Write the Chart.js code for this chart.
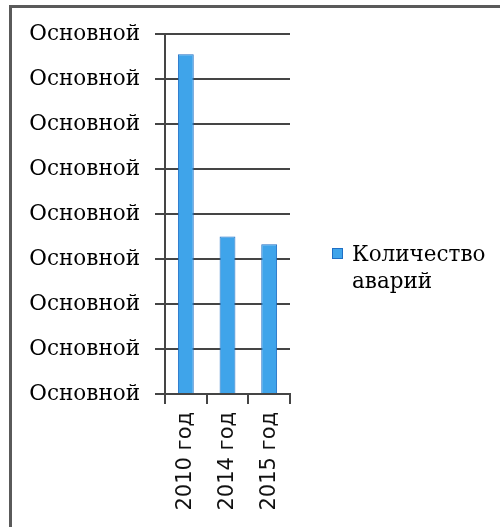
<!DOCTYPE html>
<html>
<head>
<meta charset="utf-8">
<script src="https://cdn.jsdelivr.net/npm/chart.js@4/dist/chart.umd.min.js"></script>
<style>
  html, body { margin: 0; padding: 0; background: #fff; }
  #wrap { position: relative; width: 500px; height: 527px; }
  #frame { position: absolute; left: 9px; top: 5px; right: 0; bottom: 0;
           border-left: 3px solid #5a5a5a; border-top: 3px solid #5a5a5a; pointer-events: none; }
  canvas { position: absolute; left: 0; top: 0; }
</style>
</head>
<body>
<div id="wrap">
  <canvas id="c" width="500" height="527"></canvas>
  <div id="frame"></div>
</div>
<script>
// Categories and values
const categories = ['2010 год', '2014 год', '2015 год'];
const seriesName = 'Количество аварий';
const accidents = [7.55, 3.5, 3.33];
// Value-axis labels (one per gridline, bottom to top)
const yTickLabels = ['Основной', 'Основной', 'Основной', 'Основной', 'Основной',
                     'Основной', 'Основной', 'Основной', 'Основной'];

const serif = '"DejaVu Serif", serif';
const sans = '"DejaVu Sans", sans-serif';
const barFill = '#3fa4ea';
const barEdge = '#1f6fc5';
const gridColor = '#454545';

// Legend drawn at the right, with the series name wrapped onto two lines
const sideLegend = {
  id: 'sideLegend',
  afterDraw(chart) {
    const ctx = chart.ctx;
    const ds = chart.data.datasets[0];
    const x = 332, y = 248, box = 11;
    ctx.save();
    ctx.fillStyle = ds.backgroundColor;
    ctx.fillRect(x, y, box, box);
    ctx.strokeStyle = ds.borderColor;
    ctx.lineWidth = 1;
    ctx.strokeRect(x + 0.5, y + 0.5, box - 1, box - 1);
    ctx.fillStyle = '#000';
    ctx.font = '21.5px ' + serif;
    ctx.textBaseline = 'alphabetic';
    ctx.textAlign = 'left';
    const words = ds.label.split(' ');
    words.forEach((w, i) => ctx.fillText(w, 352, 261 + i * 27));
    ctx.restore();
  }
};

new Chart(document.getElementById('c'), {
  type: 'bar',
  data: {
    labels: categories,
    datasets: [{
      label: seriesName,
      data: accidents,
      backgroundColor: barFill,
      borderColor: barEdge,
      borderWidth: 1,
      barPercentage: 0.38,
      categoryPercentage: 1
    }]
  },
  options: {
    responsive: false,
    animation: false,
    events: [],
    layout: { padding: { top: 34, right: 210, left: 0, bottom: 0 } },
    plugins: { legend: { display: false }, tooltip: { enabled: false } },
    scales: {
      x: {
        afterFit(s) { s.height = 133; },
        grid: { drawOnChartArea: false, drawTicks: true, tickLength: 10, color: gridColor, lineWidth: 2, offset: true },
        border: { color: gridColor, width: 2 },
        ticks: { minRotation: 90, maxRotation: 90, padding: 8, color: '#111', font: { family: sans, size: 21 } }
      },
      y: {
        min: 0, max: 8,
        afterFit(s) { s.width = 165; },
        grid: { color: gridColor, lineWidth: 2, tickLength: 10 },
        border: { color: gridColor, width: 2 },
        ticks: {
          stepSize: 1, padding: 15, color: '#000',
          font: { family: serif, size: 21.5 },
          callback: (v, i) => yTickLabels[i]
        }
      }
    }
  },
  plugins: [sideLegend]
});
</script>
</body>
</html>
